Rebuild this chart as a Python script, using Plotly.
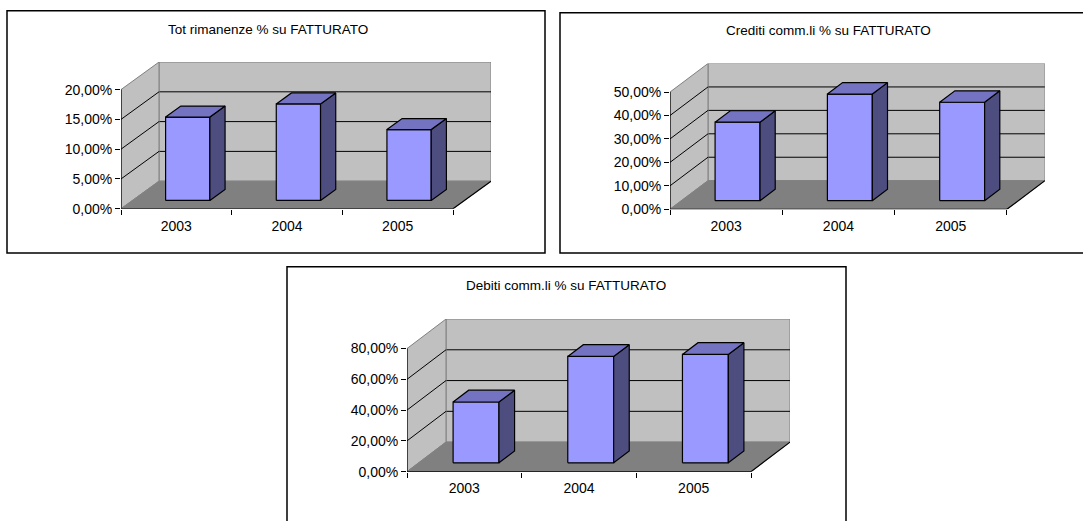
import plotly.graph_objects as go

# ---- data ----
years = ["2003", "2004", "2005"]

rimanenze = [14.0, 16.2, 11.9]        # Tot rimanenze % su fatturato
crediti = [33.5, 45.5, 42.0]          # Crediti comm.li % su fatturato
debiti = [39.5, 69.1, 70.4]           # Debiti comm.li % su fatturato

rimanenze_ticks = [0, 5, 10, 15, 20]
rimanenze_labels = ["0,00%", "5,00%", "10,00%", "15,00%", "20,00%"]
crediti_ticks = [0, 10, 20, 30, 40, 50]
crediti_labels = ["0,00%", "10,00%", "20,00%", "30,00%", "40,00%", "50,00%"]
debiti_ticks = [0, 20, 40, 60, 80]
debiti_labels = ["0,00%", "20,00%", "40,00%", "60,00%", "80,00%"]

# ---- page geometry (pixels) ----
W, H = 1083, 521
FONT = "Liberation Sans, Arial, sans-serif"

FRONT = "#9999FF"
TOP = "#7373C2"
SIDE = "#4D4D80"
WALL = "#C0C0C0"
FLOOR = "#808080"
EDGE = "#808080"

panels = [
    dict(title="Tot rimanenze % su FATTURATO", title_px=(268, 30),
         values=rimanenze, ticks=rimanenze_ticks, labels=rimanenze_labels,
         ox=121, oy=212, cat_px=110.67, unit_px=6.05, dx=38, dy=28,
         frame=(7, 11, 545, 257)),
    dict(title="Crediti comm.li % su FATTURATO", title_px=(828, 31),
         values=crediti, ticks=crediti_ticks, labels=crediti_labels,
         ox=670, oy=212.5, cat_px=112.3, unit_px=2.38, dx=38, dy=29,
         frame=(560, 13, 1100, 257)),
    dict(title="Debiti comm.li % su FATTURATO", title_px=(566, 289.5),
         values=debiti, ticks=debiti_ticks, labels=debiti_labels,
         ox=407, oy=479, cat_px=114.67, unit_px=1.5625, dx=39, dy=30,
         frame=(287, 271, 846, 535)),
]

BAR_W = 0.4          # fraction of a category
D0, D1 = 0.3, 0.7    # depth span of the columns

fig = go.Figure()


def poly(xs, ys, fill, line_color, line_width, xa, ya):
    fig.add_trace(go.Scatter(
        x=xs + [xs[0]], y=ys + [ys[0]], mode="lines", fill="toself",
        fillcolor=fill, line=dict(color=line_color, width=line_width),
        xaxis=xa, yaxis=ya, hoverinfo="skip", showlegend=False))


def seg(xs, ys, color, width, xa, ya):
    fig.add_trace(go.Scatter(
        x=xs, y=ys, mode="lines", line=dict(color=color, width=width),
        xaxis=xa, yaxis=ya, hoverinfo="skip", showlegend=False))


layout_axes = {}
for k, p in enumerate(panels, start=1):
    xa, ya = f"x{k}", f"y{k}"
    n = len(years)
    ymax = p["ticks"][-1]
    DX = p["dx"] / p["cat_px"]          # depth offset in category units
    DY = p["dy"] / p["unit_px"]         # depth offset in value units

    # back wall, grid on the back wall
    poly([DX, n + DX, n + DX, DX], [DY, DY, ymax + DY, ymax + DY],
         WALL, EDGE, 1, xa, ya)
    for t in p["ticks"][1:-1]:
        seg([DX, n + DX], [t + DY, t + DY], "#000000", 1, xa, ya)

    # side wall with its diagonal grid
    poly([0, DX, DX, 0], [0, DY, ymax + DY, ymax], WALL, EDGE, 1, xa, ya)
    for t in p["ticks"][1:-1]:
        seg([0, DX], [t, t + DY], "#000000", 1, xa, ya)

    # floor
    poly([0, n, n + DX, DX], [0, 0, DY, DY], FLOOR, EDGE, 1, xa, ya)
    seg([n, n + DX], [0, DY], "#000000", 1.2, xa, ya)

    # front axis lines
    seg([0, 0], [0, ymax], "#000000", 1.2, xa, ya)
    seg([0, n], [0, 0], "#000000", 1.2, xa, ya)

    # columns
    for i, v in enumerate(p["values"]):
        x0 = i + (1 - BAR_W) / 2
        x1 = x0 + BAR_W
        fx0, fx1 = x0 + D0 * DX, x1 + D0 * DX
        bx0, bx1 = x0 + D1 * DX, x1 + D1 * DX
        fy, by = D0 * DY, D1 * DY
        poly([fx0, fx1, fx1, fx0], [fy, fy, v + fy, v + fy],
             FRONT, "#000000", 1.2, xa, ya)
        poly([fx1, bx1, bx1, fx1], [fy, by, v + by, v + fy],
             SIDE, "#000000", 1.2, xa, ya)
        poly([fx0, fx1, bx1, bx0], [v + fy, v + fy, v + by, v + by],
             TOP, "#000000", 1.2, xa, ya)

    x_dom = [p["ox"] / W, (p["ox"] + n * p["cat_px"] + p["dx"]) / W]
    top_px = p["oy"] - ymax * p["unit_px"] - p["dy"]
    y_dom = [1 - p["oy"] / H, 1 - top_px / H]

    sfx = "" if k == 1 else str(k)
    layout_axes[f"xaxis{sfx}"] = dict(
        domain=x_dom, range=[0, n + DX], anchor=ya,
        showgrid=False, zeroline=False, showline=False,
        tickmode="array", tickvals=[i + 0.5 for i in range(n)], ticktext=years,
        ticks="outside", ticklen=4, tickcolor="rgba(0,0,0,0)",
        tickfont=dict(family=FONT, size=14, color="#000000"),
        minor=dict(tickmode="array", tickvals=list(range(n + 1)),
                   ticks="outside", ticklen=5, tickwidth=1, tickcolor="#000000",
                   showgrid=False),
        fixedrange=True)
    layout_axes[f"yaxis{sfx}"] = dict(
        domain=y_dom, range=[0, ymax + DY], anchor=xa,
        showgrid=False, zeroline=False, showline=False,
        tickmode="array", tickvals=p["ticks"], ticktext=p["labels"],
        ticks="outside", ticklen=5, tickwidth=1, tickcolor="#000000",
        tickfont=dict(family=FONT, size=14, color="#000000"),
        fixedrange=True)

shapes = []
annotations = []
for p in panels:
    fx0, fy0, fx1, fy1 = p["frame"]
    shapes.append(dict(type="rect", xref="paper", yref="paper",
                       x0=fx0 / W, x1=fx1 / W, y0=1 - fy0 / H, y1=1 - fy1 / H,
                       line=dict(color="#000000", width=1.5),
                       fillcolor="rgba(0,0,0,0)", layer="below"))
    tx, ty = p["title_px"]
    annotations.append(dict(text=p["title"], xref="paper", yref="paper",
                            x=tx / W, y=1 - ty / H, xanchor="center",
                            yanchor="middle", showarrow=False,
                            font=dict(family=FONT, size=13.5, color="#000000")))

fig.update_layout(
    width=W, height=H, margin=dict(l=0, r=0, t=0, b=0),
    paper_bgcolor="#FFFFFF", plot_bgcolor="rgba(0,0,0,0)",
    showlegend=False, shapes=shapes, annotations=annotations,
    **layout_axes)

fig.write_html("out.html", config={"displayModeBar": False})
